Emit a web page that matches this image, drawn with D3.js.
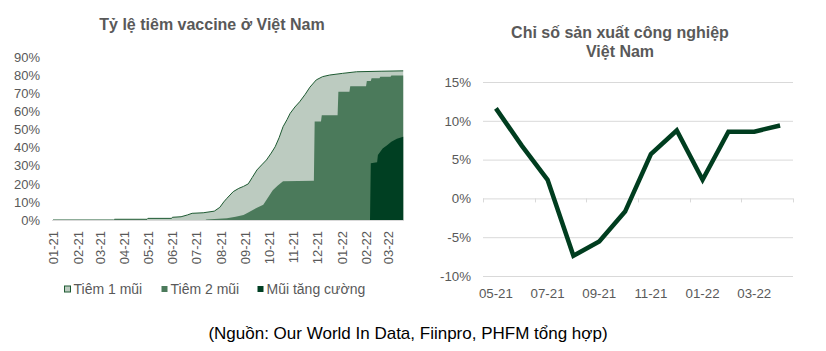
<!DOCTYPE html>
<html>
<head>
<meta charset="utf-8">
<script src="https://cdnjs.cloudflare.com/ajax/libs/d3/7.8.5/d3.min.js"></script>
<style>
    body { margin: 0; background: #fff; }
    svg { display: block; font-family: "Liberation Sans", Arial, sans-serif; }
</style>
</head>
<body>
<div id="chart"></div>
<script>
// ---- du lieu bieu do trai: ty le tiem vaccine (ngay, %) ----
let dose1 = [
    ['2021-01-01', 0], ['2021-03-19', 0], ['2021-03-20', 0.4], ['2021-04-30', 0.4],
    ['2021-05-01', 0.9], ['2021-05-31', 0.9], ['2021-06-01', 1.5], ['2021-06-12', 1.8],
    ['2021-06-20', 2.8], ['2021-06-26', 3.7], ['2021-07-10', 4.0], ['2021-07-24', 4.9],
    ['2021-07-31', 7.0], ['2021-08-05', 10], ['2021-08-09', 12], ['2021-08-17', 15.7],
    ['2021-08-24', 17.5], ['2021-08-30', 18.6], ['2021-09-05', 20], ['2021-09-10', 23.5],
    ['2021-09-16', 27.7], ['2021-09-22', 30.5], ['2021-09-28', 33.2], ['2021-10-04', 37],
    ['2021-10-09', 40.5], ['2021-10-14', 45.5], ['2021-10-19', 51.6], ['2021-10-24', 55.5],
    ['2021-10-28', 59], ['2021-11-03', 62.5], ['2021-11-09', 65.4], ['2021-11-16', 69.5],
    ['2021-11-22', 73.5], ['2021-11-30', 77.5], ['2021-12-08', 79.3], ['2021-12-17', 80.2],
    ['2022-01-02', 81.1], ['2022-01-20', 82.0], ['2022-02-20', 82.3], ['2022-03-20', 82.5]
];
let dose2 = [
    ['2021-07-13', 0], ['2021-07-14', 0.3], ['2021-08-09', 0.9], ['2021-08-20', 1.8],
    ['2021-08-30', 2.8], ['2021-09-05', 4.2], ['2021-09-16', 6.8], ['2021-09-24', 8.5],
    ['2021-09-30', 12.5], ['2021-10-06', 16.5], ['2021-10-12', 19], ['2021-10-19', 21.5],
    ['2021-11-27', 21.7], ['2021-11-28', 54.5], ['2021-12-06', 54.5], ['2021-12-07', 58],
    ['2021-12-27', 58], ['2021-12-28', 71], ['2022-01-11', 71], ['2022-01-12', 74],
    ['2022-02-01', 74], ['2022-02-02', 76.9], ['2022-02-07', 76.9], ['2022-02-08', 78.4],
    ['2022-02-18', 78.4], ['2022-02-19', 79.3], ['2022-03-04', 79.3], ['2022-03-05', 80],
    ['2022-03-20', 80]
];
let booster = [
    ['2022-02-06', 0], ['2022-02-07', 31.4], ['2022-02-15', 32], ['2022-02-16', 36],
    ['2022-02-22', 39.5], ['2022-02-28', 41.5], ['2022-03-05', 43.3], ['2022-03-12', 45],
    ['2022-03-20', 46]
];
let vaccTicks = [0, 10, 20, 30, 40, 50, 60, 70, 80, 90];
let legendNames = ['Tiêm 1 mũi', 'Tiêm 2 mũi', 'Mũi tăng cường'];

// ---- du lieu bieu do phai: chi so san xuat cong nghiep (%) ----
let months = ['05-21', '06-21', '07-21', '08-21', '09-21', '10-21', '11-21', '12-21', '01-22', '02-22', '03-22', '04-22'];
let iip = [11.6, 6.8, 2.4, -7.4, -5.55, -1.7, 5.7, 8.75, 2.4, 8.6, 8.6, 9.4];
let iipTicks = [-10, -5, 0, 5, 10, 15];

let grey = '#595959';
let colors = ['#bccbc0', '#4b7a5b', '#003f22'];

let svg = d3.select('#chart').append('svg')
    .attr('width', 826).attr('height', 351);
svg.append('rect').attr('width', 826).attr('height', 351).attr('fill', '#fff');

let parse = d3.timeParse('%Y-%m-%d');
let toPts = function (arr) {
    return arr.map(function (d) { return {date: parse(d[0]), v: d[1]}; });
};

//============ bieu do trai ============
let xT = d3.scaleTime()
    .domain([parse('2021-01-01'), parse('2022-03-21')])
    .range([53, 404]);
let yV = d3.scaleLinear().domain([0, 90]).range([220, 57.3]);

let area = d3.area()
    .x(function (d) { return xT(d.date); })
    .y0(yV(0))
    .y1(function (d) { return yV(d.v); });

let left = svg.append('g');
[dose1, dose2, booster].forEach(function (s, i) {
    left.append('path')
        .datum(toPts(s))
        .attr('d', area)
        .attr('fill', colors[i]);
});
// vien cua mui 1
left.append('path')
    .datum(toPts(dose1))
    .attr('d', d3.line().x(function (d) { return xT(d.date); }).y(function (d) { return yV(d.v); }))
    .attr('fill', 'none')
    .attr('stroke', '#1e5a32')
    .attr('stroke-width', 1);

// truc y trai
let yAxL = left.append('g')
    .attr('transform', 'translate(52,0)')
    .call(d3.axisLeft(yV).tickValues(vaccTicks).tickSize(0).tickPadding(12)
        .tickFormat(function (d) { return d + '%'; }));
yAxL.select('.domain').remove();
yAxL.selectAll('text').attr('fill', grey).style('font-size', '13px');

// truc x trai
let xAxL = left.append('g')
    .attr('transform', 'translate(0,220)')
    .call(d3.axisBottom(xT).ticks(d3.timeMonth.every(1)).tickSize(0).tickSizeOuter(0)
        .tickFormat(d3.timeFormat('%m-%y')));
xAxL.select('.domain').attr('stroke', '#d9d9d9').attr('d', 'M52,0.5H404');
xAxL.selectAll('text')
    .attr('fill', grey).style('font-size', '13px')
    .attr('transform', 'rotate(-90)')
    .attr('text-anchor', 'end')
    .attr('x', -11).attr('y', 0).attr('dy', '0.35em');

left.append('text')
    .attr('x', 212).attr('y', 30)
    .attr('text-anchor', 'middle')
    .attr('fill', grey)
    .style('font-size', '16px').style('font-weight', 'bold')
    .text('Tỷ lệ tiêm vaccine ở Việt Nam');

// chu thich
let legX = [64, 161, 257];
let leg = left.selectAll('g.leg').data(legendNames).enter().append('g')
    .attr('class', 'leg')
    .attr('transform', function (d, i) { return 'translate(' + legX[i] + ',289)'; });
leg.append('rect')
    .attr('x', 0.5).attr('y', -3).attr('width', 6).attr('height', 6)
    .attr('fill', function (d, i) { return colors[i]; })
    .attr('stroke', function (d, i) { return i === 0 ? '#1e5a32' : 'none'; });
leg.append('text')
    .attr('x', 9.5).attr('y', 5)
    .attr('fill', grey)
    .style('font-size', '14px')
    .text(function (d) { return d; });

//============ bieu do phai ============
let xB = d3.scaleBand().domain(months).range([483, 793]);
let yP = d3.scaleLinear().domain([-10, 15]).range([276, 82]);
let right = svg.append('g');

let yAxR = right.append('g')
    .attr('transform', 'translate(483,0)')
    .call(d3.axisLeft(yP).tickValues(iipTicks).tickSize(-310).tickPadding(12)
        .tickFormat(function (d) { return d + '%'; }));
yAxR.select('.domain').remove();
yAxR.selectAll('line').attr('stroke', '#d9d9d9');
yAxR.selectAll('text').attr('fill', grey).style('font-size', '13.3px');

// vach chia o duong 0%
let tickXs = months.filter(function (d, i) { return i % 2 === 0; }).map(function (d) { return xB(d); });
tickXs.push(xB.range()[1]);
right.selectAll('line.tk').data(tickXs).enter().append('line')
    .attr('class', 'tk')
    .attr('x1', function (d) { return Math.round(d) + 0.5; })
    .attr('x2', function (d) { return Math.round(d) + 0.5; })
    .attr('y1', yP(0)).attr('y2', yP(0) + 4)
    .attr('stroke', '#d9d9d9');

right.selectAll('text.xl').data(months.filter(function (d, i) { return i % 2 === 0; }))
    .enter().append('text')
    .attr('class', 'xl')
    .attr('x', function (d) { return xB(d) + xB.bandwidth() / 2; })
    .attr('y', 298)
    .attr('text-anchor', 'middle')
    .attr('fill', grey)
    .style('font-size', '13.3px')
    .text(function (d) { return d; });

right.append('path')
    .datum(iip)
    .attr('d', d3.line()
        .x(function (d, i) { return xB(months[i]) + xB.bandwidth() / 2; })
        .y(function (d) { return yP(d); }))
    .attr('fill', 'none')
    .attr('stroke', '#003d1f')
    .attr('stroke-width', 4.5)
    .attr('stroke-linejoin', 'miter');

right.append('text')
    .attr('x', 620).attr('y', 38)
    .attr('text-anchor', 'middle')
    .attr('fill', grey)
    .style('font-size', '16px').style('font-weight', 'bold')
    .text('Chỉ số sản xuất công nghiệp');
right.append('text')
    .attr('x', 620).attr('y', 57)
    .attr('text-anchor', 'middle')
    .attr('fill', grey)
    .style('font-size', '16px').style('font-weight', 'bold')
    .text('Việt Nam');

// nguon
svg.append('text')
    .attr('x', 408).attr('y', 339)
    .attr('text-anchor', 'middle')
    .attr('fill', '#000')
    .style('font-size', '17px')
    .text('(Nguồn: Our World In Data, Fiinpro, PHFM tổng hợp)');
</script>
</body>
</html>
